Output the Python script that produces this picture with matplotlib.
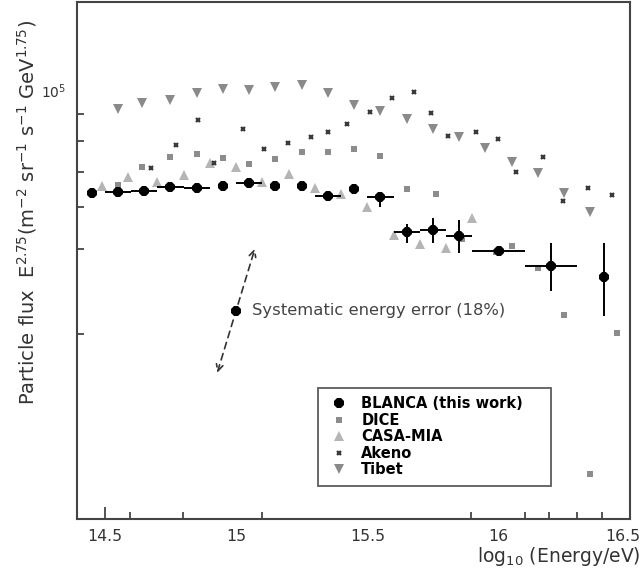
import matplotlib
matplotlib.use('Agg')
import matplotlib.pyplot as plt
import numpy as np
from matplotlib.ticker import FixedLocator, NullFormatter, FixedFormatter

plt.rcParams['font.family'] = ['DejaVu Sans']
plt.rcParams['mathtext.fontset'] = 'custom'
plt.rcParams['mathtext.rm'] = 'DejaVu Sans'
plt.rcParams['mathtext.it'] = 'DejaVu Sans:italic'
plt.rcParams['mathtext.bf'] = 'DejaVu Sans:bold'

# ---------------- data ----------------
blanca_x = [14.45, 14.55, 14.65, 14.75, 14.85, 14.95, 15.05, 15.15, 15.25, 15.35,
            15.45, 15.55, 15.65, 15.75, 15.85, 16.0, 16.2, 16.4]
blanca_y = [63840, 64040, 64320, 65450, 65160, 65730, 66600, 65730, 65730, 62930,
            64880, 62660, 54020, 54490, 53090, 49730, 46580, 44400]
blanca_xerr = [0, 0.05, 0.05, 0.05, 0.05, 0, 0.05, 0, 0, 0.05,
               0, 0.05, 0.05, 0.05, 0.05, 0.1, 0.1, 0]
blanca_ylo = [63840, 64040, 64320, 65450, 65160, 65730, 66600, 65730, 65730, 62930,
              64880, 60240, 51490, 51490, 49290, 49730, 41770, 37450]
blanca_yhi = [63840, 64040, 64320, 65450, 65160, 65730, 66600, 65730, 65730, 62930,
              64880, 64040, 55940, 57420, 56680, 49730, 51490, 51490]

dice_x = [14.55, 14.64, 14.75, 14.85, 14.95, 15.05, 15.15, 15.25, 15.35, 15.45,
          15.55, 15.65, 15.76, 15.86, 15.99, 16.05, 16.15, 16.25, 16.35, 16.45]
dice_y = [66020, 71410, 74600, 75580, 74270, 72350, 73950, 76240, 76240, 77250,
          74920, 64880, 63480, 52400, 49510, 50820, 46170, 37610, 18800, 34780]

casa_x = [14.49, 14.59, 14.70, 14.80, 14.90, 15.00, 15.10, 15.20, 15.30, 15.40,
          15.50, 15.60, 15.70, 15.80, 15.90]
casa_y = [65880, 68370, 67040, 69120, 72670, 71410, 66890, 69270, 65160, 63480,
          59980, 53320, 51270, 50380, 57300]

akeno_x = [14.675, 14.77, 14.854, 14.914, 15.025, 15.105, 15.196, 15.285, 15.35, 15.424,
           15.51, 15.595, 15.679, 15.743, 15.806, 15.914, 15.998, 16.067, 16.171, 16.245,
           16.34, 16.433]
akeno_y = [71100, 78610, 87660, 72670, 84290, 77250, 79290, 81400, 83190, 86140,
           90770, 96490, 99050, 90580, 81750, 83190, 80690, 70030, 74600, 61570,
           65160, 63340]

tibet_x = [14.55, 14.64, 14.75, 14.85, 14.95, 15.05, 15.15, 15.25, 15.35, 15.45,
           15.55, 15.65, 15.75, 15.85, 15.95, 16.05, 16.15, 16.25, 16.35]
tibet_y = [91970, 94410, 95860, 98610, 100350, 99910, 101230, 102120, 98610, 93790,
           91170, 88040, 84470, 81400, 77580, 72990, 69570, 63900, 58820]

syst_x = 15.0
syst_y = 38300
syst_arrow_x = [14.928, 15.072]
syst_arrow_y = [29200, 50200]

x_major = [14.5, 15, 15.5, 16, 16.5]
x_major_labels = ['14.5', '15', '15.5', '16', '16.5']
x_minor = [14.595, 14.797, 15.097, 15.895, 16.10, 16.192, 16.298, 16.394]
y_major = [1e5]
y_minor = [90000, 80000, 70000, 60000, 50000, 34600]

# ---------------- figure ----------------
fig = plt.figure(figsize=(6.43, 5.84), dpi=100)
ax = fig.add_axes([77/643, 1 - 519/584, 553/643, 517/584])
ax.set_yscale('log')
ax.set_xlim(14.394, 16.5005)
ax.set_ylim(15460, 146700)

c_tibet = '#8a8a8a'
c_dice = '#8c8c8c'
c_casa = '#b5b5b5'
c_akeno = '#3a3a3a'

ax.plot(tibet_x, tibet_y, 'v', color=c_tibet, ms=6.8, mew=0, zorder=2, label='Tibet')
ax.plot(dice_x, dice_y, 's', color=c_dice, ms=4.8, mew=0, zorder=2, label='DICE')
ax.plot(casa_x, casa_y, '^', color=c_casa, ms=6.8, mew=0, zorder=2, label='CASA-MIA')
ax.plot(akeno_x, akeno_y, 'x', color=c_akeno, ms=3.2, mew=1.6, zorder=3, label='Akeno')

bx = np.array(blanca_x)
by = np.array(blanca_y)
ax.errorbar(bx, by, xerr=blanca_xerr,
            yerr=[by - np.array(blanca_ylo), np.array(blanca_yhi) - by],
            fmt='none', ecolor='black', elinewidth=1.4, capsize=0, zorder=4)
ax.plot(bx, by, '8', color='black', ms=8, mew=0, zorder=5, label='BLANCA (this work)')

# systematic error indicator
ax.annotate('', xy=(syst_arrow_x[1], syst_arrow_y[1]), xytext=(syst_arrow_x[0], syst_arrow_y[0]),
            arrowprops=dict(arrowstyle='<->', linestyle=(0, (4, 3)), lw=1.2, color='#333333',
                            shrinkA=0, shrinkB=0, mutation_scale=12))
ax.plot([syst_x], [syst_y], '8', color='black', ms=7.5, mew=0, zorder=5)
ax.text(15.06, syst_y, 'Systematic energy error (18%)', va='center', ha='left',
        fontsize=11.8, color='#444444')

# ticks
ax.xaxis.set_major_locator(FixedLocator(x_major))
ax.xaxis.set_major_formatter(FixedFormatter(x_major_labels[:-1] + ['']))
ax.xaxis.set_minor_locator(FixedLocator(x_minor))
ax.xaxis.set_minor_formatter(NullFormatter())
ax.yaxis.set_major_locator(FixedLocator(y_major))
ax.yaxis.set_major_formatter(FixedFormatter([r'$\mathregular{10^5}$']))
ax.yaxis.set_minor_locator(FixedLocator(y_minor))
ax.yaxis.set_minor_formatter(NullFormatter())
ax.tick_params(axis='both', which='both', direction='in', colors='#444444',
               labelcolor='#333333')
ax.tick_params(axis='x', which='major', labelsize=11.3, pad=7, length=0)
ax.tick_params(axis='y', which='major', labelsize=10, pad=8, length=0)
ax.tick_params(axis='both', which='minor', length=5, width=1.3)
for t, v in zip(ax.xaxis.get_major_ticks(), x_major):
    if v == 14.5:
        t.tick1line.set_markersize(9)
        t.tick1line.set_markeredgewidth(1.3)
# last tick label sits at the right figure edge: nudge it inwards slightly
ax.annotate(x_major_labels[-1], xy=(x_major[-1], 0), xycoords=('data', 'axes fraction'),
            xytext=(-5, -7), textcoords='offset points', ha='center', va='top',
            fontsize=11.3, color='#333333', annotation_clip=False)

for s in ax.spines.values():
    s.set_color('#444444')
    s.set_linewidth(1.5)

# legend
handles, labels = ax.get_legend_handles_labels()
order = ['BLANCA (this work)', 'DICE', 'CASA-MIA', 'Akeno', 'Tibet']
hmap = dict(zip(labels, handles))
leg = ax.legend([hmap[k] for k in order], order, loc='lower left',
                bbox_to_anchor=(0.436, 0.064, 0.421, 0.19), mode='expand',
                frameon=True, fancybox=False,
                edgecolor='#333333', handlelength=1.6, handletextpad=0.75,
                labelspacing=0.1, borderpad=0.6, borderaxespad=0,
                prop={'family': 'DejaVu Sans', 'weight': 'bold', 'size': 10.5})
leg.get_frame().set_linewidth(1.3)
leg.set_zorder(6)

# axis labels
fig.text(641/643, 1 - 562/584, r'log$_{10}$ (Energy/eV)', ha='right', va='baseline',
         fontsize=13.5, color='#333333')
fig.text(39/643, 1 - 405/584,
         r'Particle flux  $\mathregular{E^{2.75}(m^{-2}\ sr^{-1}\ s^{-1}\ GeV^{1.75})}$',
         rotation=90, ha='right', va='bottom', fontsize=14, color='#333333')

fig.savefig('out.png', dpi=100)
